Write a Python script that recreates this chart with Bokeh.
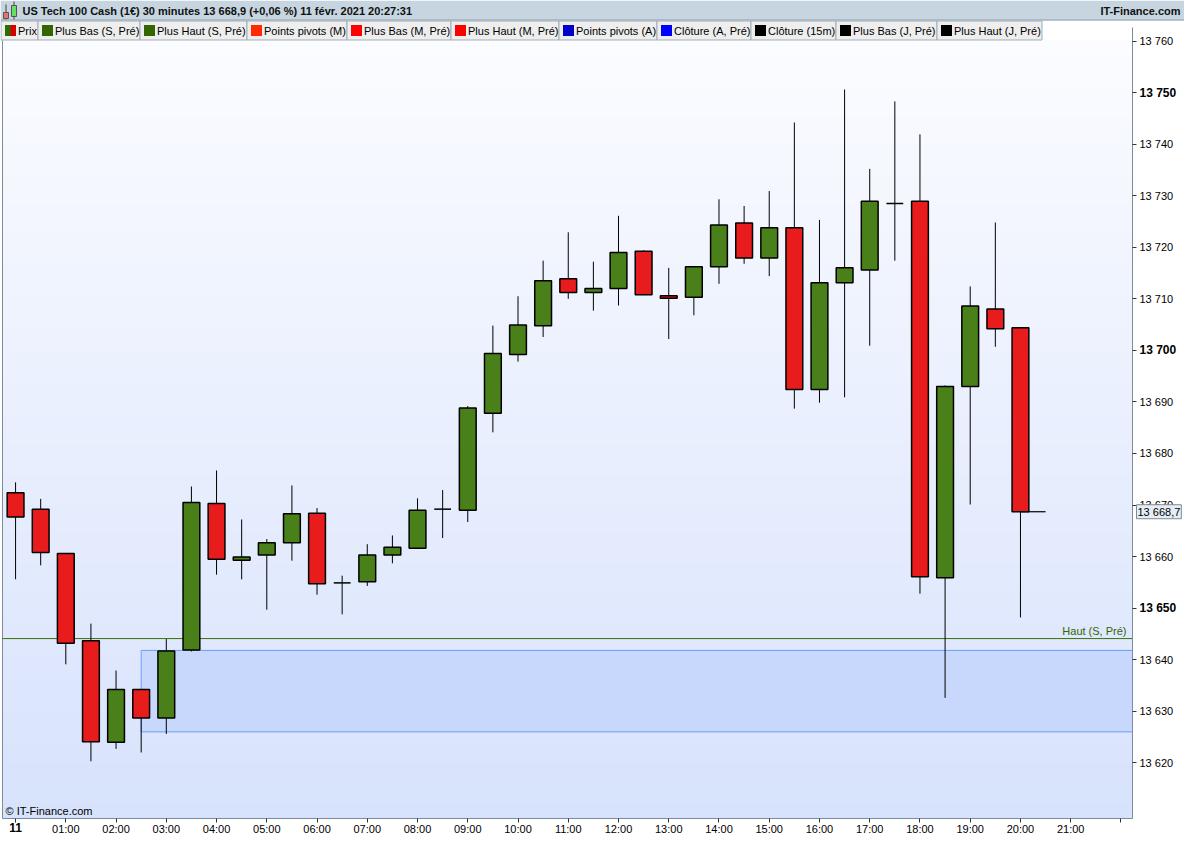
import numpy as np
from bokeh.plotting import figure
from bokeh.models import Range1d, FixedTicker, BoxAnnotation, Label, ColumnDataSource, LinearAxis
from bokeh.embed import file_html
from bokeh.resources import INLINE
from bokeh.core.properties import value

FONT = "Liberation Sans"

# ---------------- data ----------------
title_text = "US Tech 100 Cash (1€) 30 minutes 13 668,9 (+0,06 %) 11 févr. 2021 20:27:31"
brand_text = "IT-Finance.com"
watermark_text = "© IT-Finance.com"

times = [f"{h:02d}:{m:02d}" for h in range(21) for m in (0, 30)][:41]

opens = [13672.4, 13669.2, 13660.6, 13643.7, 13624.0, 13634.2, 13628.7, 13641.9, 13670.3, 13659.3,
         13660.3, 13662.7, 13668.4, 13654.9, 13655.1, 13660.3, 13661.6, 13669.2, 13669.0, 13687.8,
         13699.2, 13704.75, 13713.9, 13711.2, 13712.0, 13719.2, 13710.6, 13710.3, 13716.2, 13724.7,
         13717.9, 13723.8, 13692.4, 13713.1, 13715.6, 13728.5, 13728.9, 13655.9, 13693.0, 13708.0, 13704.4]
highs = [13674.4, 13671.2, 13660.6, 13647.0, 13637.9, 13634.2, 13644.0, 13673.6, 13676.7, 13667.2,
         13663.4, 13673.8, 13669.4, 13656.3, 13662.4, 13664.1, 13671.3, 13672.9, 13689.2, 13704.8,
         13710.5, 13717.4, 13722.9, 13717.2, 13726.1, 13719.4, 13716.0, 13716.2, 13729.3, 13728.0,
         13730.9, 13744.2, 13725.3, 13750.6, 13735.2, 13748.3, 13741.9, 13693.2, 13712.4, 13724.8, 13704.4]
lows = [13655.6, 13658.3, 13639.1, 13620.3, 13622.7, 13622.0, 13625.6, 13641.6, 13656.5, 13655.6,
        13649.7, 13659.2, 13652.6, 13648.8, 13654.3, 13658.7, 13661.6, 13663.6, 13666.7, 13684.1,
        13697.8, 13702.6, 13710.0, 13707.7, 13708.7, 13710.8, 13702.2, 13706.8, 13712.9, 13716.8,
        13714.4, 13688.7, 13689.85, 13690.9, 13700.9, 13717.4, 13652.8, 13632.6, 13670.1, 13700.7, 13648.2]
closes = [13667.7, 13660.8, 13643.2, 13624.1, 13634.2, 13628.7, 13641.7, 13670.5, 13659.5, 13659.9,
          13662.7, 13668.3, 13654.75, 13654.9, 13660.3, 13661.8, 13669.0, 13669.2, 13688.8, 13699.4,
          13704.9, 13713.5, 13711.2, 13712.0, 13719.0, 13710.8, 13710.1, 13716.2, 13724.3, 13717.9,
          13723.8, 13692.4, 13713.1, 13716.0, 13728.9, 13728.5, 13656.1, 13693.0, 13708.6, 13704.2, 13668.7]

haut_s_pre = 13644.1          # "Haut (S, Pré)" level
zone_start = "02:30"          # start of the shaded zone
zone_top = 13641.8
zone_bottom = 13626.0

y_ticks = list(range(13620, 13761, 10))
bold_y_ticks = [13650, 13700, 13750]
x_tick_hours = list(range(0, 23))
x_tick_labels = ["11"] + [f"{h:02d}:00" for h in range(1, 22)] + [""]

legend_names = ["Prix", "Plus Bas (S, Pré)", "Plus Haut (S, Pré)", "Points pivots (M)",
                "Plus Bas (M, Pré)", "Plus Haut (M, Pré)", "Points pivots (A)", "Clôture (A, Pré)",
                "Clôture (15m)", "Plus Bas (J, Pré)", "Plus Haut (J, Pré)"]
legend_colors = ["#2e6b00", "#336600", "#336600", "#ff2a00", "#ff0000", "#ff0000",
                 "#0000c8", "#0000ff", "#000000", "#000000", "#000000"]

# ---------------- geometry / styling ----------------
W, H = 1184, 834
HDR_H, LEG_H = 20, 20
PL, PW = 2, 1130                 # plot area left / width (px)
PB = 16                          # bottom axis strip height (px)
PT = H - HDR_H - LEG_H           # plot area top (px from bottom)
PH = PT - PB
GRAY = "#7b8c9a"
UP = "#4a8019"
DOWN = "#e81c1c"
BODY_W = 0.334

x0, x_plot_end = -0.26, 22.23
y0, y1 = 13609.2, 13760.1
ppx = PW / (x_plot_end - x0)
ppy = PH / (y1 - y0)
xr = Range1d(x0 - PL / ppx, x0 + (W - PL) / ppx)
yr = Range1d(y0 - PB / ppy, y0 + (H - PB) / ppy)


def hours(t):
    h, m = t.split(":")
    return int(h) + int(m) / 60.0


xs = [hours(t) for t in times]

p = figure(width=W, height=H, x_range=xr, y_range=yr, output_backend="svg",
           toolbar_location=None, x_axis_location=None, y_axis_location=None, min_border=0)
p.extra_x_ranges = {"px": Range1d(0, W)}
p.extra_y_ranges = {"px": Range1d(0, H)}
p.grid.visible = False
p.outline_line_color = None
p.background_fill_color = "white"
p.border_fill_color = "white"

# background vertical gradient of the plot area
N = 256
top_c = np.array([251, 252, 255], dtype=float)
bot_c = np.array([215, 226, 252], dtype=float)
t = np.linspace(0, 1, N)[:, None]
rgb = bot_c + (top_c - bot_c) * t
img = np.zeros((N, 2), dtype=np.uint32)
view = img.view(dtype=np.uint8).reshape((N, 2, 4))
for k in range(3):
    view[:, :, k] = np.round(rgb[:, k])[:, None]
view[:, :, 3] = 255
bg = p.image_rgba(image=[img], x=x0, y=y0, dw=x_plot_end - x0, dh=y1 - y0)
bg.level = "image"

# shaded zone
p.add_layout(BoxAnnotation(left=hours(zone_start), right=x_plot_end, top=zone_top, bottom=zone_bottom,
                           fill_color="#b9cefc", fill_alpha=0.6, line_color="#6d9eff", line_width=1,
                           line_alpha=1.0, level="underlay"))
# left border of plot area
p.segment(x0=[x0], y0=[y0], x1=[x0], y1=[y1], line_color=GRAY, line_width=1)

# weekly high level
p.segment(x0=[x0], y0=[haut_s_pre], x1=[x_plot_end], y1=[haut_s_pre], line_color="#3a7000", line_width=1)
p.add_layout(Label(x=x_plot_end, y=haut_s_pre, x_offset=-6, y_offset=2, text="Haut (S, Pré)",
                   text_align="right", text_baseline="bottom", text_color="#336600",
                   text_font=FONT, text_font_size="11px"))

# candles
bodies = dict(x=[], top=[], bottom=[], color=[])
dojis = dict(x0=[], x1=[], y=[])
for x, o, c in zip(xs, opens, closes):
    if c == o:
        dojis["x0"].append(x - BODY_W / 2)
        dojis["x1"].append(x + BODY_W / 2)
        dojis["y"].append(c)
    else:
        bodies["x"].append(x)
        bodies["top"].append(max(o, c))
        bodies["bottom"].append(min(o, c))
        bodies["color"].append(UP if c > o else DOWN)

wick_src = ColumnDataSource(dict(x=xs, h=highs, l=lows))
p.segment(x0="x", y0="h", x1="x", y1="l", source=wick_src, line_color="black", line_width=1)
p.vbar(x="x", width=BODY_W, top="top", bottom="bottom", fill_color="color",
       line_color="black", line_width=1.5, source=ColumnDataSource(bodies))
p.segment(x0="x0", y0="y", x1="x1", y1="y", source=ColumnDataSource(dojis),
          line_color="black", line_width=1.5)

# last price marker
p.segment(x0=[xs[-1]], y0=[closes[-1]], x1=[xs[-1] + 0.5], y1=[closes[-1]],
          line_color="black", line_width=1.2)

# watermark
p.add_layout(Label(x=x0, y=y0, x_offset=3, y_offset=2, text=watermark_text, text_font=FONT,
                   text_font_size="11px", text_baseline="bottom", text_color="#000000"))

# right price axis
yax = LinearAxis(fixed_location=x_plot_end, ticker=FixedTicker(ticks=y_ticks),
                 bounds=(y0, y1 + 13 / ppy))
yax.major_label_overrides = {v: ("" if v in bold_y_ticks else f"{v:,}".replace(",", " "))
                             for v in y_ticks}
yax.axis_line_color = GRAY
yax.major_tick_line_color = "#333333"
yax.major_tick_out = 4
yax.major_tick_in = 0
yax.minor_tick_line_color = None
yax.major_label_standoff = 3
yax.major_label_text_font = FONT
yax.major_label_text_font_size = "11px"
yax.major_label_text_color = "black"
p.add_layout(yax, "right")
for v in bold_y_ticks:
    p.add_layout(Label(x=x_plot_end, y=v, x_offset=7, text=f"{v:,}".replace(",", " "),
                       text_baseline="middle", text_font=FONT, text_font_size="12px",
                       text_font_style="bold", text_color="black"))

# current price box
last_txt = f"{closes[-1]:,.1f}".replace(",", " ").replace(".", ",")
p.add_layout(Label(x=x_plot_end, y=closes[-1], x_offset=4, text=last_txt, text_baseline="middle",
                   text_font=FONT, text_font_size="11px", text_color="black",
                   border_line_color=GRAY, background_fill_color="#e6edf5", padding=1))

# bottom time axis
xax = LinearAxis(fixed_location=y0, ticker=FixedTicker(ticks=x_tick_hours), bounds=(x0, x_plot_end))
xax.major_label_overrides = {h: ("" if i == 0 else lab)
                             for i, (h, lab) in enumerate(zip(x_tick_hours, x_tick_labels))}
xax.axis_line_color = GRAY
xax.major_tick_line_color = "#333333"
xax.major_tick_out = 4
xax.major_tick_in = 0
xax.minor_tick_line_color = None
xax.major_label_standoff = 0
xax.major_label_text_font = FONT
xax.major_label_text_font_size = "11px"
xax.major_label_text_color = "black"
p.add_layout(xax, "below")
p.add_layout(Label(x=x_tick_hours[0], y=y0, y_offset=-4, text=x_tick_labels[0],
                   text_align="center", text_baseline="top", text_font=FONT,
                   text_font_size="12px", text_font_style="bold", text_color="black"))

# ---------------- header bar (pixel coordinates) ----------------
PX = dict(x_range_name="px", y_range_name="px")
p.quad(left=[0], right=[W], bottom=[H - HDR_H], top=[H], fill_color="#c6d5df",
       line_color=None, **PX)
p.segment(x0=[0], y0=[H - HDR_H + 0.5], x1=[W], y1=[H - HDR_H + 0.5], line_color="#8fa2b1",
          line_width=1, **PX)
p.segment(x0=[5.5, 13.5], y0=[H - 19, H - 19], x1=[5.5, 13.5], y1=[H - 4, H - 1],
          line_color="#444444", line_width=1, **PX)
p.quad(left=[3, 11], right=[8, 16], bottom=[H - 18, H - 16], top=[H - 12, H - 5],
       fill_color=["#f07070", "#66e060"], line_color="#555555", line_width=1, **PX)
p.text(x=[22], y=[H - HDR_H / 2], text=[title_text], text_font=value(FONT), text_font_size="11px",
       text_font_style="bold", text_baseline="middle", text_color="#111111", **PX)
p.text(x=[W - 4], y=[H - HDR_H / 2], text=[brand_text], text_font=value(FONT), text_font_size="11px",
       text_font_style="bold", text_baseline="middle", text_align="right", text_color="#111111", **PX)

# ---------------- legend row (pixel coordinates) ----------------
ARIAL = {' ': 278, '(': 333, ')': 333, ',': 278, '1': 556, '5': 556, 'A': 667, 'B': 667, 'C': 722,
         'H': 722, 'J': 500, 'M': 833, 'P': 667, 'S': 667, 'a': 556, 'b': 556, 'e': 556, 'é': 556,
         'i': 222, 'l': 222, 'm': 833, 'n': 556, 'o': 556, 'ô': 556, 'p': 556, 'r': 333, 's': 500,
         't': 278, 'u': 556, 'v': 500, 'x': 500}
lefts, rights = [], []
pos = 0.5
for name in legend_names:
    w = round(sum(ARIAL.get(ch, 556) for ch in name) * 11 / 1000 + 18)
    lefts.append(pos)
    rights.append(pos + w)
    pos += w
leg_top = H - HDR_H
p.quad(left=lefts, right=rights, bottom=leg_top - LEG_H + 0.5, top=leg_top - 0.5,
       fill_color="#eeeeee", line_color="#a3adb5", line_width=1, **PX)
sq_l = [l + 4 for l in lefts]
p.quad(left=sq_l, right=[l + 11 for l in sq_l], bottom=leg_top - 15.5, top=leg_top - 4.5,
       fill_color=legend_colors, line_color=None, **PX)
p.quad(left=[sq_l[0] + 5.5], right=[sq_l[0] + 11], bottom=leg_top - 15.5, top=leg_top - 4.5,
       fill_color="#d40000", line_color=None, **PX)
p.text(x=[l + 17 for l in lefts], y=[leg_top - LEG_H / 2] * len(lefts), text=legend_names,
       text_font=value(FONT), text_font_size="11px", text_baseline="middle", text_color="black", **PX)

open("out.html", "w").write(file_html(p, INLINE))
